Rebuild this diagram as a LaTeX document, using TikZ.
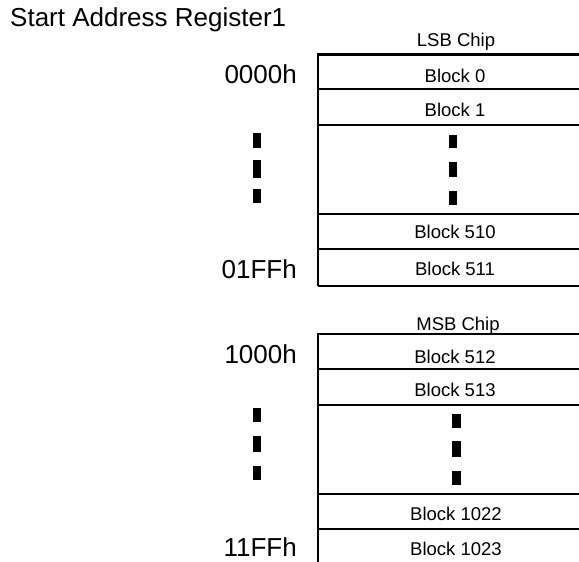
\documentclass[tikz,border=0pt]{standalone}
\usepackage{fontspec}
\setmainfont{Liberation Sans}
\begin{document}
\begin{tikzpicture}[x=1pt,y=-1pt,
  big/.style={font=\fontsize{26}{30}\selectfont,inner sep=0pt},
  small/.style={font=\fontsize{18.5}{22}\selectfont,inner sep=0pt,anchor=base},
  thick line/.style={line width=2.5pt},
  thin line/.style={line width=1.3pt},
  dash box/.style={fill=black,draw=none}]
\useasboundingbox (0,0) rectangle (579,562);
% title
\node[big,anchor=base west] (title) at (10,27) {Start Address Register1};
% address labels
\node[big,anchor=base east] (a0000) at (297,83.5) {0000h};
\node[big,anchor=base east] (a01FF) at (297,278) {01FFh};
\node[big,anchor=base east] (a1000) at (297,363.5) {1000h};
\node[big,anchor=base east] (a11FF) at (297,556.5) {11FFh};
% LSB chip
\node[small] (lsb) at (456,46) {LSB Chip};
\draw[thick line] (579,54.5) -- (318,54.5) -- (318,214);
\draw[thin line] (318,214) -- (318,286);
\draw[thin line] (318,89) -- (579,89);
\draw[thin line] (318,125) -- (579,125);
\draw[line width=1.8pt] (318,214) -- (579,214);
\draw[thin line] (318,249) -- (579,249);
\draw[thin line] (318,286) -- (579,286);
\node[small] (b0) at (455,82.7) {Block 0};
\node[small] (b1) at (455,116.7) {Block 1};
\node[small] (b510) at (455,238) {Block 510};
\node[small] (b511) at (455,275) {Block 511};
\fill[dash box] (253,133) rectangle (260.5,148);
\fill[dash box] (253,160) rectangle (260.5,178);
\fill[dash box] (253,189) rectangle (260.5,203);
\fill[dash box] (449,135) rectangle (457,148);
\fill[dash box] (449,162) rectangle (457,177);
\fill[dash box] (449,191) rectangle (457,205);
% MSB chip
\node[small] (msb) at (458,330) {MSB Chip};
\draw[thick line] (579,334) -- (318,334) -- (318,494);
\draw[thin line] (318,494) -- (318,562);
\draw[thin line] (318,369) -- (579,369);
\draw[thin line] (318,405) -- (579,405);
\draw[line width=1.8pt] (318,494) -- (579,494);
\draw[thin line] (318,529) -- (579,529);
\node[small] (b512) at (455,363.3) {Block 512};
\node[small] (b513) at (455,396.7) {Block 513};
\node[small] (b1022) at (456,520) {Block 1022};
\node[small] (b1023) at (456,555) {Block 1023};
\fill[dash box] (253,408) rectangle (261,422);
\fill[dash box] (253,436) rectangle (261,452);
\fill[dash box] (253,466) rectangle (261,480);
\fill[dash box] (452,414) rectangle (461,428);
\fill[dash box] (452,441) rectangle (461,457);
\fill[dash box] (452,471) rectangle (461,485);
\end{tikzpicture}
\end{document}
